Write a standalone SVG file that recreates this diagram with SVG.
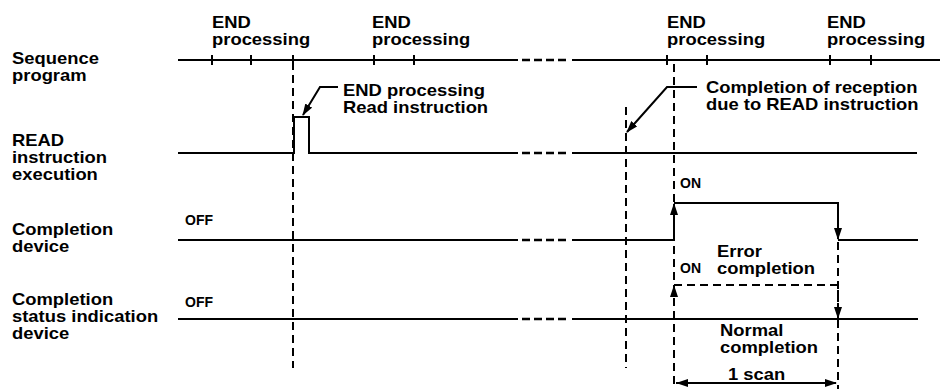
<svg xmlns="http://www.w3.org/2000/svg" width="942" height="389" viewBox="0 0 942 389">
<style>
text{font-family:"Liberation Sans",Arial,sans-serif;font-weight:bold;fill:#000}
.lab{font-size:16px}
.sm{font-size:14px}
.ln{stroke:#000;stroke-width:2;fill:none}
.dash{stroke:#000;stroke-width:2;fill:none;stroke-dasharray:8 5}
.brk{stroke:#000;stroke-width:2.5;fill:none;stroke-dasharray:8 4}
</style>
<defs>
<marker id="ah" viewBox="0 0 12 8" refX="11" refY="4" markerWidth="12" markerHeight="8" markerUnits="userSpaceOnUse" orient="auto">
<path d="M0,0 L12,4 L0,8 Z" fill="#000"/>
</marker>
<marker id="ahs" viewBox="0 0 12 8" refX="0" refY="4" markerWidth="12" markerHeight="8" markerUnits="userSpaceOnUse" orient="auto">
<path d="M12,0 L0,4 L12,8 Z" fill="#000"/>
</marker>
</defs>
<rect width="942" height="389" fill="#fff"/>

<g id="row-labels">
<text class="lab" transform="translate(12,64) scale(1.15,1)">Sequence</text>
<text class="lab" transform="translate(12,81) scale(1.15,1)">program</text>
<text class="lab" transform="translate(12,146) scale(1.15,1)">READ</text>
<text class="lab" transform="translate(12,163) scale(1.15,1)">instruction</text>
<text class="lab" transform="translate(12,180) scale(1.15,1)">execution</text>
<text class="lab" transform="translate(12,235) scale(1.15,1)">Completion</text>
<text class="lab" transform="translate(12,252) scale(1.15,1)">device</text>
<text class="lab" transform="translate(12,305) scale(1.15,1)">Completion</text>
<text class="lab" transform="translate(12,322) scale(1.15,1)">status indication</text>
<text class="lab" transform="translate(12,339) scale(1.15,1)">device</text>
</g>

<g id="end-labels">
<text class="lab" transform="translate(212,28) scale(1.15,1)">END</text>
<text class="lab" transform="translate(212,45) scale(1.15,1)">processing</text>
<text class="lab" transform="translate(372,28) scale(1.15,1)">END</text>
<text class="lab" transform="translate(372,45) scale(1.15,1)">processing</text>
<text class="lab" transform="translate(667,28) scale(1.15,1)">END</text>
<text class="lab" transform="translate(667,45) scale(1.15,1)">processing</text>
<text class="lab" transform="translate(827,28) scale(1.15,1)">END</text>
<text class="lab" transform="translate(827,45) scale(1.15,1)">processing</text>
</g>

<g id="sequence-program">
<path class="ln" d="M178,60 H518 M572,60 H940"/>
<path class="brk" d="M522,60 H568"/>
<path class="ln" d="M212,55 V65 M251,55 V65 M293,55 V65 M374,55 V65 M414,55 V65 M667,55 V65 M707,55 V65 M830,55 V65 M871,55 V65"/>
</g>

<g id="read-execution">
<path class="ln" d="M178,153 H294 V117 H309 V153 H518 M572,153 H917"/>
<path class="brk" d="M522,153 H568"/>
</g>

<g id="completion-device">
<path class="ln" d="M178,240 H518 M572,240 H674"/>
<path class="brk" d="M522,240 H568"/>
<path class="ln" d="M674,240 V204" marker-end="url(#ah)"/>
<path class="ln" d="M674,203 H838 V239" marker-end="url(#ah)"/>
<path class="ln" d="M838,240 H918"/>
<text class="sm" x="185" y="225">OFF</text>
<text class="sm" x="680" y="188">ON</text>
</g>

<g id="status-device">
<path class="ln" d="M178,319 H518 M572,319 H918"/>
<path class="brk" d="M522,319 H568"/>
<path class="dash" d="M674,319 V286" marker-end="url(#ah)"/>
<path class="dash" d="M674,285 H838 V318" marker-end="url(#ah)"/>
<text class="sm" x="185" y="307">OFF</text>
<text class="sm" x="680" y="273">ON</text>
</g>

<g id="connectors">
<path class="dash" d="M293,62 V368"/>
<path class="dash" d="M626,107 V368"/>
<path class="dash" d="M674,64 V389"/>
<path class="dash" d="M838,242 V389"/>
<path class="ln" d="M338,87 H320 L303,115" marker-end="url(#ah)"/>
<path class="ln" d="M697,87 H667 L627,132" marker-end="url(#ah)"/>
<path class="ln" d="M676,383 H836" marker-start="url(#ahs)" marker-end="url(#ah)"/>
</g>

<g id="annotations">
<text class="lab" transform="translate(343,96) scale(1.15,1)">END processing</text>
<text class="lab" transform="translate(343,113) scale(1.15,1)">Read instruction</text>
<text class="lab" transform="translate(706,93) scale(1.15,1)">Completion of reception</text>
<text class="lab" transform="translate(706,110) scale(1.15,1)">due to READ instruction</text>
<text class="lab" transform="translate(717,257) scale(1.15,1)">Error</text>
<text class="lab" transform="translate(717,274) scale(1.15,1)">completion</text>
<text class="lab" transform="translate(720,336) scale(1.15,1)">Normal</text>
<text class="lab" transform="translate(720,353) scale(1.15,1)">completion</text>
<text class="lab" transform="translate(728,380) scale(1.15,1)">1 scan</text>
</g>
</svg>
